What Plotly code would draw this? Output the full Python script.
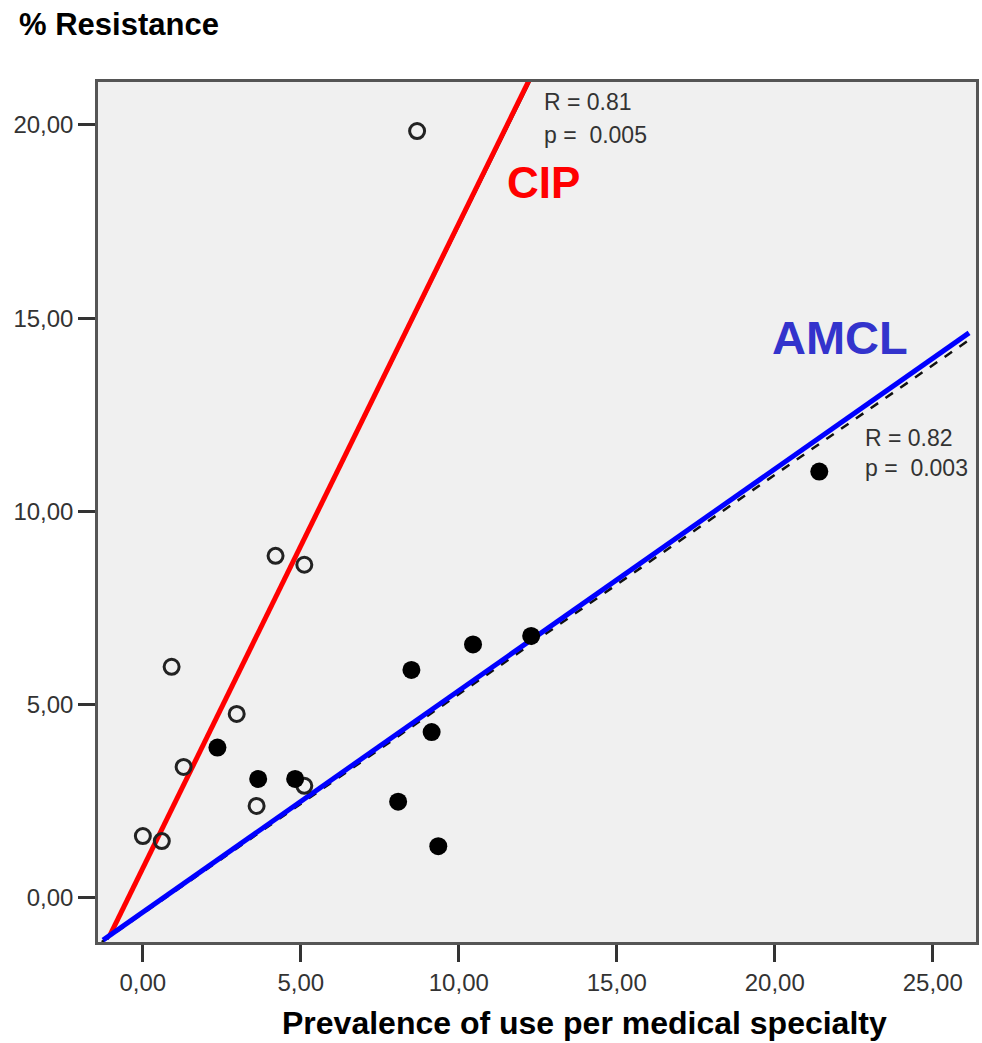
import plotly.graph_objects as go

# CIP (open circles)
cip_x = [8.68, 4.20, 5.11, 0.91, 2.97, 1.29, 5.11, 3.60, 0.00, 0.60]
cip_y = [19.84, 8.85, 8.62, 5.98, 4.76, 3.39, 2.90, 2.38, 1.60, 1.47]

# AMCL (filled circles)
amcl_x = [2.36, 3.65, 4.82, 8.50, 10.45, 12.29, 9.14, 8.08, 9.35, 21.41]
amcl_y = [3.89, 3.08, 3.08, 5.90, 6.56, 6.78, 4.29, 2.49, 1.34, 11.03]

# Fit lines (endpoints)
cip_fit_x = [-1.04, 12.25]
cip_fit_y = [-0.96, 21.2]
cip_fit_black_x = [-1.12, 12.30]
cip_fit_black_y = [-1.08, 21.2]
amcl_fit_x = [-1.26, 26.15]
amcl_fit_y = [-1.09, 14.62]
amcl_fit_black_x = [-1.30, 26.30]
amcl_fit_black_y = [-1.14, 14.52]

x_ticks = [0, 5, 10, 15, 20, 25]
x_tick_text = ["0,00", "5,00", "10,00", "15,00", "20,00", "25,00"]
y_ticks = [0, 5, 10, 15, 20]
y_tick_text = ["0,00", "5,00", "10,00", "15,00", "20,00"]

FONT = "Liberation Sans, Arial, sans-serif"

fig = go.Figure()

fig.add_trace(go.Scatter(x=cip_fit_black_x, y=cip_fit_black_y, mode="lines",
                         line=dict(color="#111111", width=2), hoverinfo="skip"))
fig.add_trace(go.Scatter(x=cip_fit_x, y=cip_fit_y, mode="lines",
                         line=dict(color="#ff0000", width=5), hoverinfo="skip"))
fig.add_trace(go.Scatter(x=amcl_fit_black_x, y=amcl_fit_black_y, mode="lines",
                         line=dict(color="#111111", width=2.5, dash="dash"), hoverinfo="skip"))
fig.add_trace(go.Scatter(x=amcl_fit_x, y=amcl_fit_y, mode="lines",
                         line=dict(color="#0000ff", width=5), hoverinfo="skip"))

fig.add_trace(go.Scatter(x=cip_x, y=cip_y, mode="markers",
                         marker=dict(symbol="circle-open", size=15, color="#222222",
                                     line=dict(width=3, color="#222222"))))
fig.add_trace(go.Scatter(x=amcl_x, y=amcl_y, mode="markers",
                         marker=dict(symbol="circle", size=18, color="#000000",
                                     line=dict(width=0))))

axis_common = dict(showgrid=False, zeroline=False, showline=True, mirror=True,
                   linecolor="#555555", linewidth=2.5, ticks="outside", ticklen=17,
                   tickwidth=2.5, tickcolor="#333333",
                   tickfont=dict(family=FONT, size=24, color="#333333"))

fig.update_xaxes(range=[-1.42, 26.37], tickvals=x_ticks, ticktext=x_tick_text, **axis_common)
fig.update_yaxes(range=[-1.14, 21.11], tickvals=y_ticks, ticktext=y_tick_text, **axis_common)

annotations = [
    dict(text="<b>% Resistance</b>", xref="paper", yref="paper", x=-0.0919, y=1.0663,
         xanchor="left", yanchor="middle", showarrow=False,
         font=dict(family=FONT, size=31, color="#000000")),
    dict(text="<b>Prevalence of use per medical specialty</b>", xref="paper", yref="paper",
         x=0.554, y=-0.0942, xanchor="center", yanchor="middle", showarrow=False,
         font=dict(family=FONT, size=32, color="#000000")),
    dict(text="<b>CIP</b>", x=12.68, y=18.5, xanchor="center", yanchor="middle",
         showarrow=False, font=dict(family=FONT, size=44, color="#ff0000")),
    dict(text="<b>AMCL</b>", x=22.05, y=14.51, xanchor="center", yanchor="middle",
         showarrow=False, font=dict(family=FONT, size=47, color="#3333cc")),
    dict(text="R = 0.81", x=12.62, y=20.6, xanchor="left", yanchor="middle",
         showarrow=False, font=dict(family=FONT, size=23, color="#333333")),
    dict(text="p =\u00a0\u00a00.005", x=12.62, y=19.74, xanchor="left", yanchor="middle",
         showarrow=False, font=dict(family=FONT, size=23, color="#333333")),
    dict(text="R = 0.82", x=22.79, y=11.90, xanchor="left", yanchor="middle",
         showarrow=False, font=dict(family=FONT, size=23, color="#333333")),
    dict(text="p =\u00a0\u00a00.003", x=22.79, y=11.13, xanchor="left", yanchor="middle",
         showarrow=False, font=dict(family=FONT, size=23, color="#333333")),
]

fig.update_layout(
    width=982, height=1043,
    margin=dict(l=98, r=3, t=82, b=101),
    paper_bgcolor="#ffffff", plot_bgcolor="#f0f0f0",
    showlegend=False,
    annotations=annotations,
)

# remove the default page margin so the figure sits at the window's top-left corner
fig.write_html("out.html",
               config={"displayModeBar": False},
               post_script="document.body.style.margin='0px';"
                           "document.body.style.overflow='hidden';")
